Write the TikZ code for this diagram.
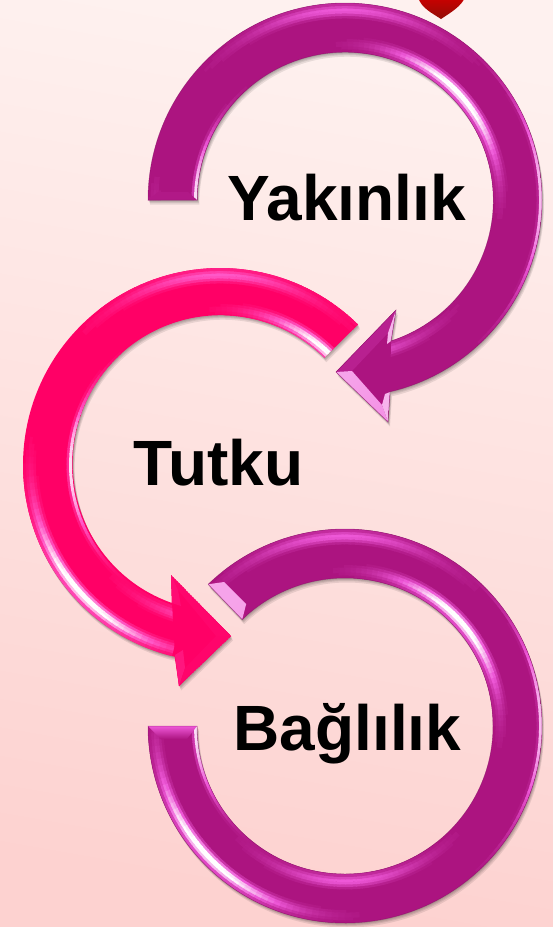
\documentclass[tikz,border=0pt]{standalone}
\usepackage{fontspec}
\setmainfont{Liberation Sans}
\usetikzlibrary{calc}
\definecolor{purpbody}{HTML}{AC1480}
\definecolor{purpmag}{HTML}{EE58D8}
\definecolor{pinkbody}{HTML}{FF0066}
\definecolor{pinkmag}{HTML}{FF58C8}
\definecolor{bgtop}{HTML}{FEF1EF}
\definecolor{bgbot}{HTML}{FDD2D0}
\tikzset{
  label text/.style={font=\bfseries\fontsize{64}{64}\selectfont,text=black,anchor=base,inner sep=0pt},
  soft shadow/.style={fill=black,opacity=.09},
  white facet/.style={top color=white!45!purpmag,middle color=white,bottom color=white!35!purpmag,shading angle=45}
}
% one ring of a bevel: #1 cx, #2 cy, #3 a0, #4 a1, #5 radius, #6 normal phase, #7 weight, #8 thin-line weight
\newcommand\rimring[8]{%
  \pgfmathtruncatemacro\nseg{floor((#4-#3)/2)}%
  \foreach \k in {0,...,\nseg}{%
    \pgfmathsetmacro\a{#3+\k*2}%
    \pgfmathsetmacro\cc{max(0,cos(\a+#6-222))}%
    \pgfmathsetmacro\uu{max(0,cos(\a+#6-90))}%
    \pgfmathsetmacro\rr{max(0,cos(\a+#6))}%
    \pgfmathsetmacro\ctwo{\cc*\cc}%
    \pgfmathsetmacro\utwo{\uu*\uu}%
    \pgfmathsetmacro\rr{\rr*\rr}%
    \pgfmathsetmacro\cfour{\ctwo*\ctwo}%
    \pgfmathsetmacro\v{min(1,#7*(1.15*\cfour*\cfour+.5*\utwo*\utwo*\utwo*\utwo)+#8*\rr*\rr*\rr*\rr)}%
    \ifdim\v pt>0.03pt
      \pgfmathsetmacro\p{min(100,200*\v)}%
      \pgfmathsetmacro\q{max(0,200*\v-100)}%
      \colorlet{tmpc}{magc!\p!bodyc}%
      \pgfmathsetmacro\e{\a+2.4}%
      \draw[draw=white!\q!tmpc,line width=2.9pt] (#1,#2) ++(\a:#5) arc[start angle=\a,end angle=\e,radius=#5];%
    \fi
  }%
}
% all rims of an arc: #1 cx, #2 cy, #3 a0, #4 a1
\newcommand\allrims[4]{%
  \rimring{#1}{#2}{#3}{#4}{183}{0}{.2}{0}%
  \rimring{#1}{#2}{#3}{#4}{185.5}{0}{.55}{0}%
  \rimring{#1}{#2}{#3}{#4}{188}{0}{.9}{0}%
  \rimring{#1}{#2}{#3}{#4}{190.5}{0}{1}{0}%
  \rimring{#1}{#2}{#3}{#4}{193}{0}{.7}{.1}%
  \rimring{#1}{#2}{#3}{#4}{195.5}{0}{.35}{.8}%
  \rimring{#1}{#2}{#3}{#4}{162}{180}{.2}{0}%
  \rimring{#1}{#2}{#3}{#4}{159.5}{180}{.55}{0}%
  \rimring{#1}{#2}{#3}{#4}{157}{180}{.9}{0}%
  \rimring{#1}{#2}{#3}{#4}{154.5}{180}{1}{0}%
  \rimring{#1}{#2}{#3}{#4}{152}{180}{.7}{.25}%
  \rimring{#1}{#2}{#3}{#4}{149.5}{180}{.35}{.9}%
}
\newcommand\shapeA{(345,-200) ++(180:197) arc[start angle=180,end angle=-76.8,radius=197] -- (388,-422) -- (336,-372) -- (396,-310) -- (391,-341) arc[start angle=-72,end angle=180,radius=148] -- cycle}
\newcommand\shapeB{(220,-465) ++(45.5:197) arc[start angle=45.5,end angle=256.7,radius=197] -- (179,-686) -- (231,-636) -- (171,-575) -- (172,-603) arc[start angle=250.8,end angle=45.5,radius=148] -- cycle}
\newcommand\shapeC{(345,-726) ++(134:197) arc[start angle=134,end angle=-180,radius=197] -- ++(49,0) arc[start angle=-180,end angle=134,radius=148] -- cycle}
\begin{document}
\begin{tikzpicture}[x=1pt,y=1pt]
\useasboundingbox (0,-927) rectangle (553,0);
\shade[top color=bgtop,bottom color=bgbot,shading angle=-10] (0,-927) rectangle (553,0);
% heart cut by the top edge
\begin{scope}
\clip (0,-927) rectangle (553,0);
\shade[top color=red!80!black,bottom color=red!55!black!90!brown] (441,-19) .. controls (432,-13) and (421,-8) .. (418,3) -- (465,3) .. controls (462,-6) and (450,-13) .. (441,-19) -- cycle;
\end{scope}
% shadows
\foreach \d/\e in {.5/-1,1/-2,1.5/-3,2/-4.5}{
  \fill[soft shadow,shift={(\d,\e)}] \shapeA;
  \fill[soft shadow,shift={(\d,\e)}] \shapeB;
  \fill[soft shadow,shift={(\d,\e)}] \shapeC;
}
% ---------- top arc
\colorlet{bodyc}{purpbody}\colorlet{magc}{purpmag}
\fill[bodyc] \shapeA;
\begin{scope}
\clip \shapeA;
\allrims{345}{-200}{-75}{180}
\fill[bodyc!92!magc] (148,-200) -- (197,-200) -- (188,-192) -- (158,-192) -- cycle;
\fill[bodyc] (336,-372) -- (396,-310) -- (391,-341) -- (390,-392) -- (388,-422) -- cycle;
\fill[bodyc!82!magc] (336,-372) -- (396,-310) -- (388,-333) -- (352,-371) -- cycle;
\shade[white facet] (336,-372) -- (388,-422) -- (382,-405) -- (352,-371) -- cycle;
\fill[white!55!purpmag] (396,-310) -- (391,-341) -- (387,-344) -- (388,-333) -- cycle;
\fill[white!55!purpmag] (388,-422) -- (390,-392) -- (385,-394) -- (382,-405) -- cycle;
\end{scope}
\draw[bodyc!75!black,line width=.5pt,opacity=.55] \shapeA;
% ---------- left arc
\colorlet{bodyc}{pinkbody}\colorlet{magc}{pinkmag}
\fill[bodyc] \shapeB;
\begin{scope}
\clip \shapeB;
\allrims{220}{-465}{45.5}{255}
\fill[bodyc] (231,-636) -- (171,-575) -- (172,-603) -- (175,-655) -- (179,-686) -- cycle;
\fill[bodyc!94!magc] (231,-636) -- (171,-575) -- (178,-590) -- (216,-636) -- cycle;
\fill[bodyc!86!magc] (171,-575) -- (172,-603) -- (181,-606) -- (178,-590) -- cycle;
\fill[bodyc!75!magc] (179,-686) -- (175,-655) -- (183,-650) -- (185,-668) -- cycle;
\fill[bodyc!95!magc] (231,-636) -- (179,-686) -- (185,-668) -- (216,-636) -- cycle;
\end{scope}
% ---------- bottom arc
\colorlet{bodyc}{purpbody}\colorlet{magc}{purpmag}
\fill[bodyc] \shapeC;
\begin{scope}
\clip \shapeC;
\allrims{345}{-726}{-180}{134}
% cap at the upper end
\shade[white facet] (345,-726) ++(134:197) -- ($(345,-726)+(134:148)$) -- ($(345,-726)+(129:157)$) -- ($(345,-726)+(130:188)$) -- cycle;
% cap at the lower end
\shade[top color=purpmag,bottom color=purpbody] (148,-726) -- (197,-726) -- (187,-739) -- (161,-739) -- cycle;
\end{scope}
\draw[bodyc!75!black,line width=.5pt,opacity=.55] \shapeC;
% labels
\node[label text] (yakinlik) at (346.5,-220) {Yakınlık};
\node[label text] (tutku) at (218.5,-485) {Tutku};
\node[label text] (baglilik) at (347.5,-750) {Bağlılık};
\end{tikzpicture}
\end{document}
